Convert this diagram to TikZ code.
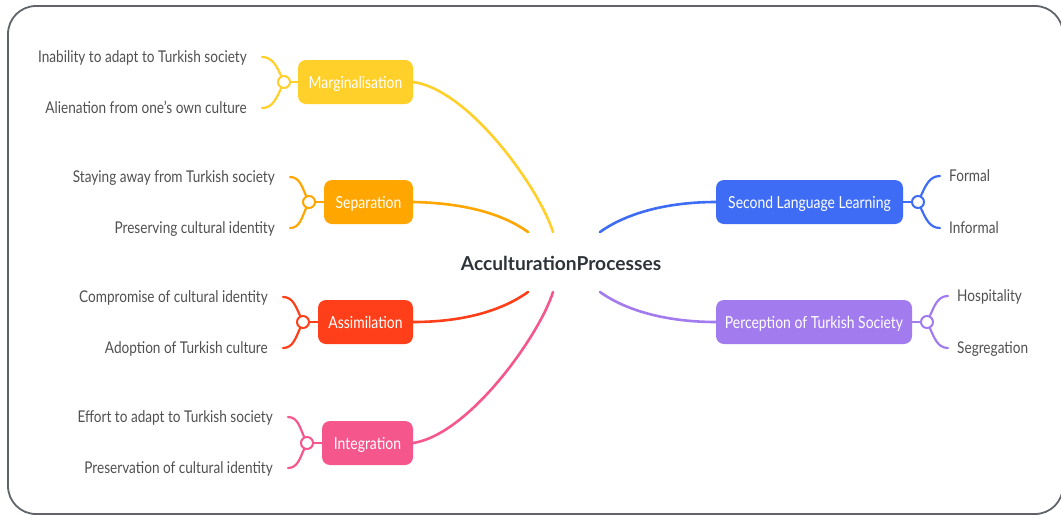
\documentclass[tikz,border=0pt]{standalone}
\usepackage{fontspec}
\setmainfont[FakeStretch=0.84]{Lato}
\newfontfamily\rootfont{Lato}
\definecolor{cYel}{HTML}{FFCF2A}
\definecolor{cOra}{HTML}{FFA600}
\definecolor{cRed}{HTML}{FF3F1A}
\definecolor{cPnk}{HTML}{F5578C}
\definecolor{cBlu}{HTML}{3F6CF5}
\definecolor{cPur}{HTML}{A27BEE}
\definecolor{cTxt}{HTML}{505050}
\definecolor{cRoot}{HTML}{2E333A}
\definecolor{cFrame}{HTML}{60646A}
\tikzset{
  framebox/.style={draw=cFrame, line width=1.8pt, rounded corners=28pt},
  box/.style={rounded corners=8pt, text=white, minimum height=44pt, inner xsep=4pt,
    text height=13pt, text depth=1pt, font=\fontsize{16.6}{18}\selectfont},
  hub/.style={circle, fill=white, line width=2pt, minimum size=12pt, inner sep=0pt},
  mainline/.style={line width=2.6pt, line cap=round},
  armline/.style={line width=2.2pt, line cap=round},
  leafL/.style={anchor=east, inner xsep=15pt, inner ysep=0pt, text=cTxt, text height=12pt, text depth=2pt, font=\fontsize{16.2}{18}\selectfont},
  leafR/.style={anchor=west, inner xsep=9pt, inner ysep=0pt, text=cTxt, text height=12pt, text depth=2pt, font=\fontsize{16.2}{18}\selectfont},
}
\begin{document}
\begin{tikzpicture}[x=1pt,y=-1pt]
\useasboundingbox (0,0) rectangle (1061,515);
\draw[framebox] (8,6) rectangle (1063,514);

% root
\node[text=cRoot, font=\rootfont\bfseries\fontsize{19.2}{21}\selectfont] (root) at (561,263) {AcculturationProcesses};
\coordinate (rM) at (553,232);
\coordinate (rS) at (528,232);
\coordinate (rA) at (528,292);
\coordinate (rI) at (553,292);
\coordinate (rL) at (600,232);
\coordinate (rP) at (600,292);

% boxes
\node[box, fill=cYel, minimum width=115pt] (mar) at (355.5,82) {Marginalisation};
\node[box, fill=cOra, minimum width=89pt] (sep) at (368.5,202) {Separation};
\node[box, fill=cRed, minimum width=95pt] (ass) at (365.5,322) {Assimilation};
\node[box, fill=cPnk, minimum width=91pt] (int) at (367.5,443) {Integration};
\node[box, fill=cBlu, minimum width=187pt] (sll) at (809.5,202) {Second Language Learning};
\node[box, fill=cPur, minimum width=196pt] (per) at (814,322) {Perception of Turkish Society};

% main connectors
\draw[mainline, cYel] (rM) .. controls (540,190) and (470,90) .. (mar.east);
\draw[mainline, cOra] (rS) .. controls (500,212) and (460,203) .. (sep.east);
\draw[mainline, cRed] (rA) .. controls (500,312) and (460,322) .. (ass.east);
\draw[mainline, cPnk] (rI) .. controls (540,334) and (470,434) .. (int.east);
\draw[mainline, cBlu] (rL) .. controls (628,212) and (670,202) .. (sll.west);
\draw[mainline, cPur] (rP) .. controls (628,312) and (670,322) .. (per.west);

% hubs
\node[hub, draw=cYel] (marh) at (284,82) {};
\node[hub, draw=cOra] (seph) at (309,202) {};
\node[hub, draw=cRed] (assh) at (303,322) {};
\node[hub, draw=cPnk] (inth) at (307,443) {};
\node[hub, draw=cBlu] (sllh) at (918,202) {};
\node[hub, draw=cPur] (perh) at (927,322) {};

% leaves
\node[leafL] (mar1) at (262,57) {Inability to adapt to Turkish society};
\node[leafL] (mar2) at (262,108) {Alienation from one's own culture};
\node[leafL] (sep1) at (290,177) {Staying away from Turkish society};
\node[leafL] (sep2) at (290,228) {Preserving cultural identity};
\node[leafL] (ass1) at (283,297) {Compromise of cultural identity};
\node[leafL] (ass2) at (283,348) {Adoption of Turkish culture};
\node[leafL] (int1) at (288,417) {Effort to adapt to Turkish society};
\node[leafL] (int2) at (288,468) {Preservation of cultural identity};
\node[leafR] (sll1) at (940,176) {Formal};
\node[leafR] (sll2) at (940,228) {Informal};
\node[leafR] (per1) at (948,296) {Hospitality};
\node[leafR] (per2) at (948,348) {Segregation};

% hub stems
\draw[armline, cYel] (mar.west) -- (marh.east);
\draw[armline, cOra] (sep.west) -- (seph.east);
\draw[armline, cRed] (ass.west) -- (assh.east);
\draw[armline, cPnk] (int.west) -- (inth.east);
\draw[armline, cBlu] (sll.east) -- (sllh.west);
\draw[armline, cPur] (per.east) -- (perh.west);

% arms
\draw[armline, cYel] (marh.115) to[out=115,in=0] (mar1.east);
\draw[armline, cYel] (marh.245) to[out=245,in=0] (mar2.east);
\draw[armline, cOra] (seph.115) to[out=115,in=0] (sep1.east);
\draw[armline, cOra] (seph.245) to[out=245,in=0] (sep2.east);
\draw[armline, cRed] (assh.115) to[out=115,in=0] (ass1.east);
\draw[armline, cRed] (assh.245) to[out=245,in=0] (ass2.east);
\draw[armline, cPnk] (inth.115) to[out=115,in=0] (int1.east);
\draw[armline, cPnk] (inth.245) to[out=245,in=0] (int2.east);
\draw[armline, cBlu] (sllh.65) to[out=65,in=180] (sll1.west);
\draw[armline, cBlu] (sllh.295) to[out=295,in=180] (sll2.west);
\draw[armline, cPur] (perh.65) to[out=65,in=180] (per1.west);
\draw[armline, cPur] (perh.295) to[out=295,in=180] (per2.west);
\end{tikzpicture}
\end{document}
